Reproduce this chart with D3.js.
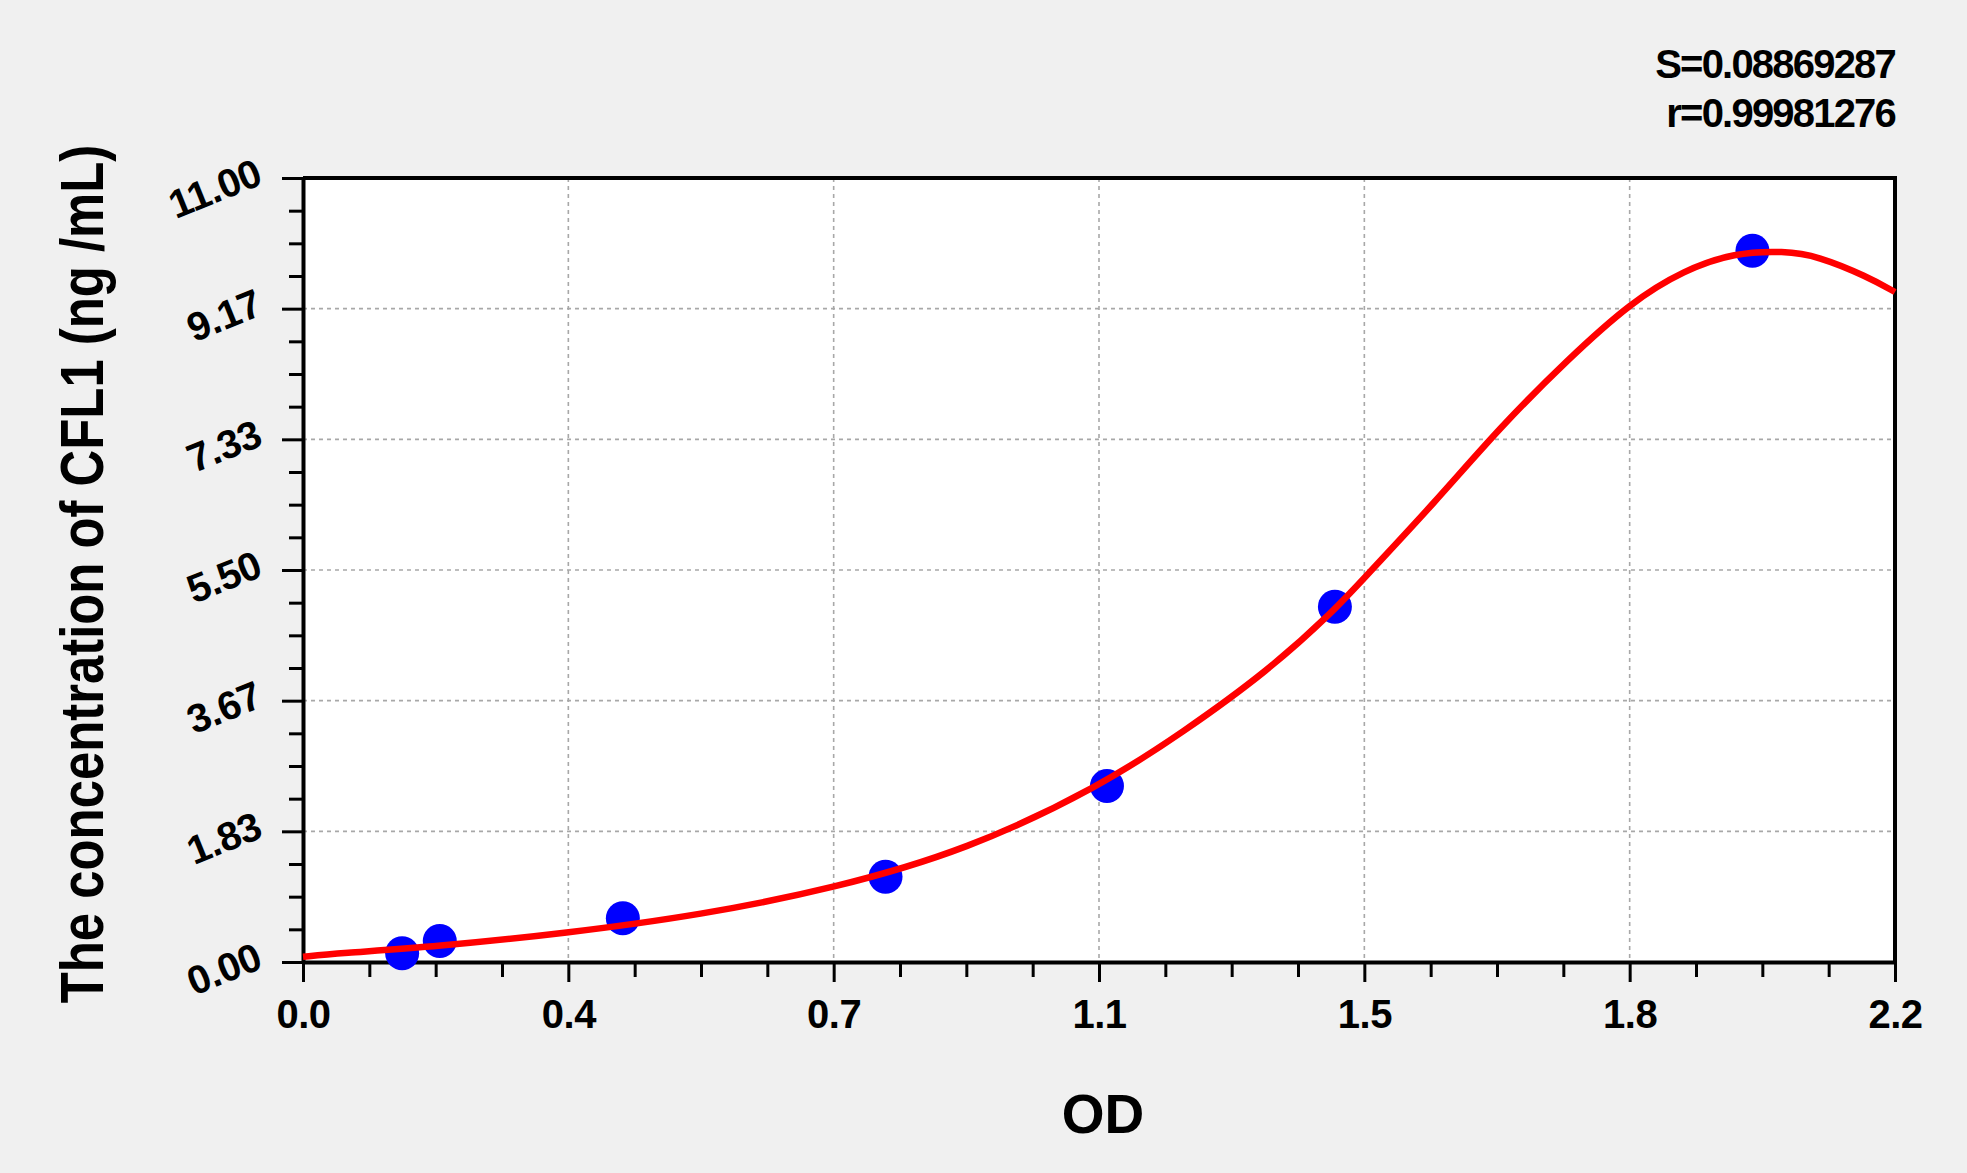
<!DOCTYPE html>
<html>
<head>
<meta charset="utf-8">
<script src="https://cdn.jsdelivr.net/npm/d3@7"></script>
<style>
  html, body { margin: 0; padding: 0; background: #f0f0f0; }
  svg { display: block; }
  text { font-family: Arial, "Liberation Sans", sans-serif; font-weight: bold; fill: #000; }
</style>
</head>
<body>
<svg id="chart" width="1967" height="1173"></svg>
<script>
// ---- data ----
const odValues   = [0.137, 0.189, 0.442, 0.805, 1.111, 1.426, 2.003];
const concValues = [0.122, 0.295, 0.613, 1.197, 2.469, 4.985, 9.980];

const curveOD   = [0.000, 0.048, 0.183, 0.363, 0.550, 0.734, 0.918, 1.101, 1.217, 1.333, 1.426, 1.468, 1.563, 1.655, 1.747, 1.836, 1.909, 1.978, 2.047, 2.093, 2.162, 2.200];
const curveConc = [0.074, 0.122, 0.215, 0.403, 0.659, 1.034, 1.571, 2.460, 3.230, 4.080, 4.939, 5.406, 6.436, 7.511, 8.447, 9.265, 9.710, 9.952, 9.976, 9.906, 9.616, 9.400];

const xTickLabels = ["0.0", "0.4", "0.7", "1.1", "1.5", "1.8", "2.2"];
const yTickLabels = ["0.00", "1.83", "3.67", "5.50", "7.33", "9.17", "11.00"];
const statLabels  = ["S=0.08869287", "r=0.99981276"];
const xTitle = "OD";
const yTitle = "The concentration of CFL1 (ng /mL)";

const xDomain = [0, 2.2];
const yDomain = [0, 11];

// ---- layout ----
const svg = d3.select("#chart");
const L = 303, R = 1895, T = 178, B = 962;

const x = d3.scaleLinear().domain(xDomain).range([L, R]);
const y = d3.scaleLinear().domain(yDomain).range([B, T]);

const nMajor = xTickLabels.length - 1;
const xMajor = d3.range(nMajor + 1).map(i => xDomain[0] + (xDomain[1] - xDomain[0]) * i / nMajor);
const yMajor = d3.range(nMajor + 1).map(i => yDomain[0] + (yDomain[1] - yDomain[0]) * i / nMajor);
const xMinor = d3.range(nMajor * 4 + 1).map(i => xDomain[0] + (xDomain[1] - xDomain[0]) * i / (nMajor * 4)).filter((d, i) => i % 4 !== 0);
const yMinor = d3.range(nMajor * 4 + 1).map(i => yDomain[0] + (yDomain[1] - yDomain[0]) * i / (nMajor * 4)).filter((d, i) => i % 4 !== 0);

// plot background
svg.append("rect").attr("x", L).attr("y", T).attr("width", R - L).attr("height", B - T).attr("fill", "#ffffff");

// gridlines
const grid = svg.append("g").attr("stroke", "#a8a8a8").attr("stroke-width", 1.6).attr("stroke-dasharray", "4,4");
grid.selectAll("line.gx").data(xMajor.slice(1, -1)).join("line")
  .attr("x1", d => x(d)).attr("x2", d => x(d)).attr("y1", T).attr("y2", B);
grid.selectAll("line.gy").data(yMajor.slice(1, -1)).join("line")
  .attr("y1", d => y(d)).attr("y2", d => y(d)).attr("x1", L).attr("x2", R);

// frame (top & right)
svg.append("path").attr("d", `M${L},${T}H${R}V${B}`).attr("fill", "none").attr("stroke", "#000").attr("stroke-width", 4);

// x axis
const xAxisMinor = svg.append("g").attr("transform", `translate(0,${B})`)
  .call(d3.axisBottom(x).tickValues(xMinor).tickSize(15).tickFormat(""));
const xAxis = svg.append("g").attr("transform", `translate(0,${B})`)
  .call(d3.axisBottom(x).tickValues(xMajor).tickSizeInner(20).tickSizeOuter(0).tickPadding(10)
    .tickFormat((d, i) => xTickLabels[i]));
xAxis.selectAll("text").attr("font-size", 40).attr("y", null).attr("dy", null).attr("dominant-baseline", "auto")
  .attr("transform", "translate(0,66)").attr("font-family", "Arial, 'Liberation Sans', sans-serif").attr("font-weight", "bold")
  .attr("letter-spacing", -0.5);

// y axis
const yAxisMinor = svg.append("g").attr("transform", `translate(${L},0)`)
  .call(d3.axisLeft(y).tickValues(yMinor).tickSize(14).tickFormat(""));
const yAxis = svg.append("g").attr("transform", `translate(${L},0)`)
  .call(d3.axisLeft(y).tickValues(yMajor).tickSizeInner(21).tickSizeOuter(0)
    .tickFormat((d, i) => yTickLabels[i]));
yAxis.selectAll("text").attr("font-size", 40).attr("x", null).attr("dy", null)
  .attr("text-anchor", "end").attr("dominant-baseline", "central")
  .attr("transform", "translate(-44,-8) rotate(-22)")
  .attr("font-family", "Arial, 'Liberation Sans', sans-serif").attr("font-weight", "bold")
  .attr("letter-spacing", -0.5);

[xAxis, xAxisMinor, yAxis, yAxisMinor].forEach(g => {
  g.select(".domain").attr("stroke", "#000").attr("stroke-width", 4);
  g.selectAll(".tick line").attr("stroke", "#000").attr("stroke-width", 3);
});
xAxisMinor.select(".domain").remove();
yAxisMinor.select(".domain").remove();

// points
const pts = odValues.map((d, i) => ({ x: d, y: concValues[i] }));
svg.append("g").selectAll("circle").data(pts).join("circle")
  .attr("cx", d => x(d.x)).attr("cy", d => y(d.y)).attr("r", 17).attr("fill", "#0000ff");

// fitted curve
const curvePts = curveOD.map((d, i) => [d, curveConc[i]]);
const line = d3.line().x(d => x(d[0])).y(d => y(d[1])).curve(d3.curveBasis);
svg.append("path").datum(curvePts).attr("d", line)
  .attr("fill", "none").attr("stroke", "#ff0000").attr("stroke-width", 6.5).attr("stroke-linejoin", "round");

// titles
svg.append("text").attr("x", 1103).attr("y", 1133).attr("text-anchor", "middle").attr("font-size", 55).text(xTitle);
svg.append("text").attr("transform", "translate(103,574) rotate(-90) scale(0.82,1)").attr("text-anchor", "middle")
  .attr("font-size", 62).text(yTitle);

// stats
svg.append("g").selectAll("text").data(statLabels).join("text")
  .attr("x", 1895).attr("y", (d, i) => 78 + i * 49).attr("text-anchor", "end")
  .attr("font-size", 40).attr("letter-spacing", -1.8).text(d => d);
</script>
</body>
</html>
